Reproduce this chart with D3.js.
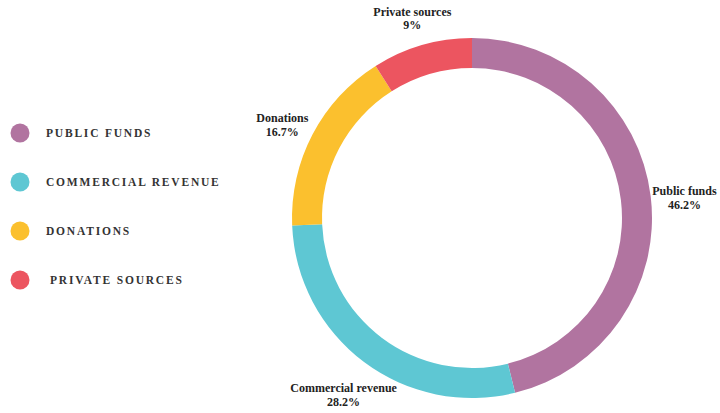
<!DOCTYPE html>
<html>
<head>
<meta charset="utf-8">
<script src="https://cdn.jsdelivr.net/npm/d3@7/dist/d3.min.js"></script>
<style>
  html, body { margin: 0; padding: 0; background: #ffffff; }
  svg { display: block; }
</style>
</head>
<body>
<svg id="chart" width="720" height="413"></svg>
<script>
// Funding sources and their shares (%)
const categories = ["Public funds", "Commercial revenue", "Donations", "Private sources"];
const shares = [46.2, 28.2, 16.7, 9];
const shareLabels = ["46.2%", "28.2%", "16.7%", "9%"];
const legendLabels = ["PUBLIC FUNDS", "COMMERCIAL REVENUE", "DONATIONS", "PRIVATE SOURCES"];
const colors = ["#b174a0", "#5ec7d3", "#fbc02e", "#ec5560"];

const svg = d3.select("#chart");
const cx = 472, cy = 218;
const outerR = 180, innerR = 150, labelR = 214;

const data = categories.map((c, i) => ({ name: c, value: shares[i], label: shareLabels[i], color: colors[i] }));

const pie = d3.pie().value(d => d.value).sort(null);
const arc = d3.arc().innerRadius(innerR).outerRadius(outerR);
const arcs = pie(data);

const g = svg.append("g").attr("transform", `translate(${cx},${cy})`);

g.selectAll("path.slice")
  .data(arcs)
  .join("path")
  .attr("class", "slice")
  .attr("d", arc)
  .attr("fill", d => d.data.color);

// Slice labels placed outside the ring at the mid angle
const labels = g.selectAll("text.slice-label")
  .data(arcs)
  .join("text")
  .attr("class", "slice-label")
  .attr("text-anchor", "middle")
  .attr("font-family", "'Liberation Serif', 'Times New Roman', serif")
  .attr("font-weight", "bold")
  .attr("font-size", 12)
  .attr("fill", "#222")
  .attr("transform", d => {
    const a = (d.startAngle + d.endAngle) / 2;
    const x = Math.sin(a) * labelR;
    const y = -Math.cos(a) * labelR + 5;
    return `translate(${x},${y})`;
  });
labels.append("tspan").attr("x", 0).attr("dy", "-0.15em").text(d => d.data.name);
labels.append("tspan").attr("x", 0).attr("dy", "1.15em").text(d => d.data.label);

// Legend
const legend = svg.append("g").attr("transform", "translate(20,133)");
const rows = legend.selectAll("g.row")
  .data(data)
  .join("g")
  .attr("class", "row")
  .attr("transform", (d, i) => `translate(0,${i * 49})`);
rows.append("circle").attr("r", 9.5).attr("fill", d => d.color);
rows.append("text")
  .attr("x", (d, i) => i === 3 ? 30 : 26)
  .attr("y", 4)
  .attr("font-family", "'Liberation Serif', 'Times New Roman', serif")
  .attr("font-weight", "bold")
  .attr("font-size", 11.5)
  .attr("letter-spacing", "1.8px")
  .attr("fill", "#333")
  .text((d, i) => legendLabels[i]);
</script>
</body>
</html>
